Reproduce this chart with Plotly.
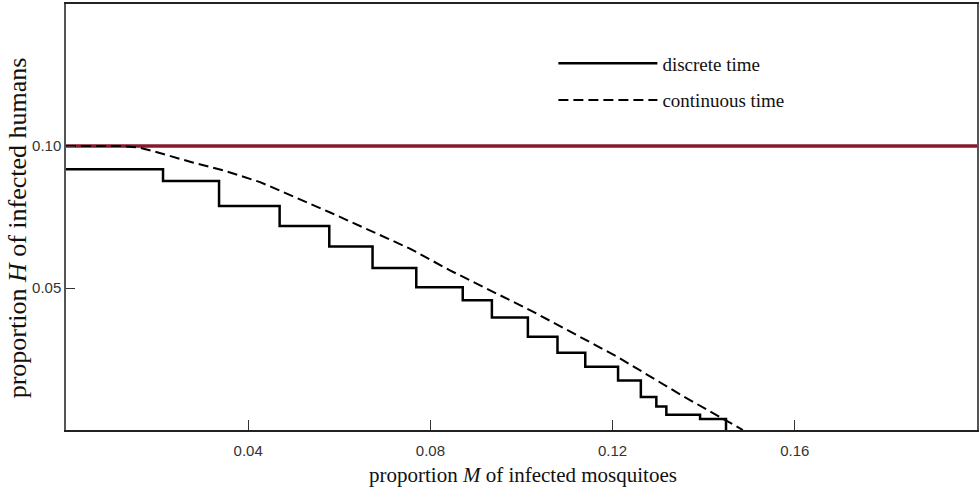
import plotly.graph_objects as go

# Continuous-time curve (dashed)
cont_M = [0.0, 0.012, 0.016, 0.020, 0.028, 0.035, 0.0426, 0.0514, 0.058, 0.0756, 0.0843, 0.1026, 0.121, 0.1356, 0.1486]
cont_H = [0.100, 0.100, 0.0995, 0.0978, 0.0941, 0.0912, 0.0873, 0.0813, 0.0766, 0.0638, 0.0562, 0.0416, 0.0258, 0.0118, 0.0]

# Discrete-time staircase (start of each level)
disc_M = [0.0, 0.0213, 0.0336, 0.0469, 0.0578, 0.0673, 0.0769, 0.0871, 0.0935, 0.1014,
          0.1079, 0.114, 0.1212, 0.1262, 0.1296, 0.1318, 0.1392, 0.1449]
disc_H = [0.0918, 0.0877, 0.0789, 0.0718, 0.0646, 0.0570, 0.0503, 0.0457, 0.0396, 0.0328,
          0.0272, 0.0223, 0.0174, 0.0116, 0.0083, 0.0054, 0.0039, 0.0]

# Threshold line
thr_M = [0.0, 0.2]
thr_H = [0.10, 0.10]

x_ticks = [0.04, 0.08, 0.12, 0.16]
x_labels = ["0.04", "0.08", "0.12", "0.16"]
y_ticks = [0.05, 0.10]
y_labels = ["0.05", "0.10"]

x_title = "proportion <i>M</i> of infected mosquitoes"
y_title = "proportion <i>H</i> of infected humans"

fig = go.Figure()
fig.add_trace(go.Scatter(x=thr_M, y=thr_H, mode="lines", showlegend=False,
                         line=dict(color="#861a2c", width=3.5)))
fig.add_trace(go.Scatter(x=disc_M, y=disc_H, mode="lines", line_shape="hv",
                         name="discrete time", legendgroup="a",
                         line=dict(color="black", width=2.5)))
fig.add_trace(go.Scatter(x=cont_M, y=cont_H, mode="lines",
                         name="continuous time", legendgroup="b",
                         line=dict(color="black", width=2, dash="10px,5px")))

serif = "Liberation Serif, Times New Roman, serif"
sans = "Liberation Sans, Arial, sans-serif"

fig.update_layout(
    width=979, height=490,
    margin=dict(l=66, r=2, t=4, b=60),
    plot_bgcolor="white", paper_bgcolor="white",
    legend=dict(x=0.535, y=0.905, xanchor="left", yanchor="top",
                font=dict(family=serif, size=19, color="#111"),
                itemwidth=99, tracegroupgap=9, bgcolor="rgba(0,0,0,0)"),
    xaxis=dict(range=[0, 0.2], tickvals=x_ticks, ticktext=x_labels, automargin=False,
               ticks="inside", ticklen=10, tickcolor="#333", showgrid=False, zeroline=False,
               showline=True, linecolor="#222", linewidth=1.5, mirror=True,
               ticklabelstandoff=6,
               tickfont=dict(family=sans, size=15, color="#333")),
    yaxis=dict(range=[0, 0.15], tickvals=y_ticks, ticktext=y_labels, automargin=False,
               ticks="inside", ticklen=9, tickcolor="#333", showgrid=False, zeroline=False,
               showline=True, linecolor="#555", linewidth=1.5, mirror=True,
               tickfont=dict(family=sans, size=15, color="#333")),
    annotations=[
        dict(text=x_title, xref="paper", yref="paper", x=0.502, y=-0.105,
             xanchor="center", yanchor="middle", showarrow=False,
             font=dict(family=serif, size=21, color="#111")),
        dict(text=y_title, xref="paper", yref="paper", x=-0.053, y=0.475,
             xanchor="center", yanchor="middle", showarrow=False, textangle=-90,
             font=dict(family=serif, size=26, color="#111")),
    ],
)

fig.write_html("out.html", config={"displayModeBar": False},
               post_script="document.body.style.margin='0';")
